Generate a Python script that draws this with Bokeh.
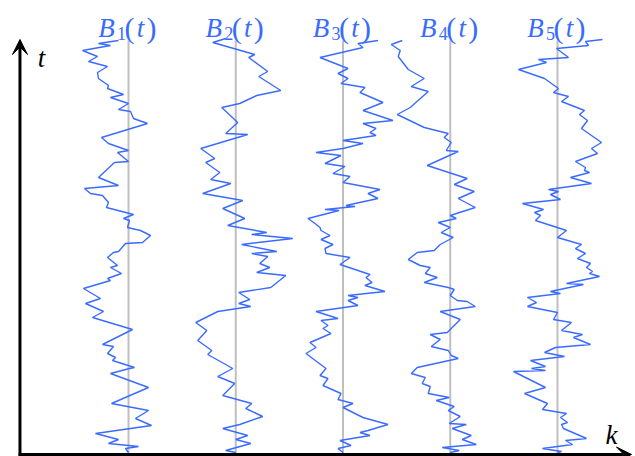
from bokeh.plotting import figure
from bokeh.models import Range1d, Arrow, VeeHead, Label
from bokeh.embed import file_html
from bokeh.resources import INLINE

# ---- data: B_k(t) paths (t in time steps, B in path units) ----
t1 = [0,4,6,9,13,19,27,34,42,49,65,79,84,85,92,95,99,106,108,123,135,141,149,154,164,172,174,179,185,187,
      195,200,201,209,210,217,222,225,232,234,238,245,250,257,259,264,267,275,290,291,300,302,309,315,329,334,
      341,343,349,355,358,364,367,374,380,386,391,396,402,407,409,412]
B1 = [0,-3,10,-20,-10,-33,23,7,20,-17,20,-18,1,6,-16,-13,-21,-15,-26,4,-36,-25,-43,-28,-45,-18,-21,-7,-18,-11,
      -21,-15,-10,-3,14,22,12,-1,1,-5,5,-22,-20,-26,-38,-44,-10,-30,-14,0,-11,0,-20,-27,19,5,
      2,-10,0,-18,-5,-21,-20,-30,-31,-21,-40,-31,-46,-18,-30,-10]

t2 = [0,2,9,13,17,24,28,36,44,49,57,69,76,84,98,102,112,122,130,141,146,149,153,160,165,177,180,185,189,196,
      199,201,208,214,218,220,227,234,244,252,259,269,273,280,290,294,304,318,319,330,345,349,357,362,376,381,
      395,398,410,414]
B2 = [0,-10,15,0,12,-13,4,27,10,16,-13,-1,-18,-3,-28,-24,-38,-29,-40,-18,15,3,14,3,35,50,21,34,24,32,
      16,41,6,57,16,31,-8,9,-13,7,-33,-5,-25,-16,-30,-21,-35,12,-10,2,-14,4,21,45,23,32,
      13,19,-23,-10]

t3 = [0,4,7,12,17,20,22,28,35,45,49,53,59,67,74,77,84,99,105,110,119,124,127,132,134,141,147,152,155,157,
      161,167,170,175,178,188,195,199,204,208,213,217,222,225,229,234,242,243,246,247,254,259,263,270,276,279,
      286,289,297,300,304,309,312,317,320,324,329,332,342,350,360,365,369,374,379,384,395,405,409,412]
B3 = [0,-5,8,-3,27,17,25,45,20,0,10,-5,-2,-20,-15,-23,-17,-37,-27,-33,-12,-20,-15,-22,-5,-27,15,5,15,5,
      42,22,29,23,27,-3,7,-17,-18,-10,-22,-13,-22,-23,-28,-35,-4,-18,12,3,35,25,37,0,7,-10,
      2,-18,-2,-27,0,20,0,33,27,33,20,50,20,40,17,22,-2,5,-5,5,-23,20,15,35]

t4 = [0,2,5,8,13,17,24,28,29,36,42,46,52,55,59,66,69,75,79,85,94,97,102,106,113,118,120,133,141,146,
      151,152,157,163,165,170,175,179,185,187,193,200,202,208,215,220,225,230,234,237,245,254,261,268,274,287,
      301,302,310,315,319,325,338,345,361,366,374,383,396,402,408,412]
B4 = [0,9,-8,26,12,21,2,16,-1,10,-2,4,-14,-1,-22,-20,-28,-25,-39,-33,8,1,-2,-19,-10,-20,-3,10,-10,25,
      17,7,0,4,-2,-26,-13,-25,-20,-30,-42,-33,-16,-10,3,-9,0,-12,6,0,25,8,24,4,17,-23,
      8,-4,1,-6,-2,-26,-53,-40,-22,-39,-26,-42,-52,-50,-59,-48]

t5 = [0,1,4,8,12,14,24,28,30,35,39,43,49,59,65,81,82,84,86,92,96,100,105,108,115,118,122,130,133,140,
      146,150,155,159,161,168,169,176,179,181,185,189,194,199,204,208,215,222,232,237,240,243,249,253,258,261,
      263,269,275,280,282,285,291,299,304,310,324,332,338,342,351,356,360,364,374,383,390,393,395,404,407,411,413]
B5 = [0,4,-15,15,8,29,6,4,10,3,9,-15,-10,-33,-12,-44,-12,-26,-12,-27,7,-13,-2,33,16,25,4,14,-4,0,
      -30,-21,-30,3,-7,26,9,42,32,35,29,33,20,28,18,24,0,9,-22,-17,-23,-14,-35,3,-7,1,
      -9,34,13,32,27,28,18,40,34,44,24,30,22,27,4,11,-4,1,-13,-39,-11,-19,11,-1,31,28,45]

ks = [1, 2, 3, 4, 5]
paths_t = [t1, t2, t3, t4, t5]
paths_B = [B1, B2, B3, B4, B5]
sub_labels = ["1", "2", "3", "4", "5"]
t_top = 412

# ---- style ----
BLUE = "#3a6bff"
PX_PER_K = 107.25     # horizontal pixels per unit of k
SERIF = "Liberation Serif"

p = figure(width=635, height=456, output_backend="svg", toolbar_location=None,
           x_range=Range1d(-0.1935, 5.7273), y_range=Range1d(-4, 452),
           x_axis_location=None, y_axis_location=None, min_border=0)
p.grid.visible = False
p.outline_line_color = None
p.background_fill_color = "white"
p.border_fill_color = "white"

# grey reference lines
p.segment(x0=ks, y0=[-2]*5, x1=ks, y1=[t_top]*5, line_color="#bfbfbf", line_width=2)

# Brownian paths
for k, ts, bs in zip(ks, paths_t, paths_B):
    xs = [k + b / PX_PER_K for b in bs]
    p.line(xs, ts, line_color=BLUE, line_width=1.4)

# labels B_k(t)
for k, s in zip(ks, sub_labels):
    pieces = [("B", -22, 0, "italic", 27), (s, -7, -6, "normal", 18),
              ("(", 1, 0, "normal", 30), ("t", 12, 0, "italic", 27), (")", 23, 0, "normal", 30)]
    for txt, dx, dy, style, fs in pieces:
        p.add_layout(Label(x=k, y=425, x_offset=dx, y_offset=dy, text=txt,
                           text_align="center", text_baseline="alphabetic",
                           text_font=SERIF, text_font_style=style,
                           text_font_size=f"{fs}px", text_color=BLUE))

# axes with arrows
AX = -0.012
p.add_layout(Arrow(end=VeeHead(size=15, fill_color="black", line_color="black", line_width=1),
                   x_start=AX, y_start=-3.5, x_end=AX, y_end=413,
                   line_color="black", line_width=3))
p.add_layout(Arrow(end=VeeHead(size=15, fill_color="black", line_color="black", line_width=1),
                   x_start=AX - 0.012, y_start=-2, x_end=5.69, y_end=-2,
                   line_color="black", line_width=3))

p.add_layout(Label(x=0.189, y=395, text="t", text_align="center", text_baseline="alphabetic",
                   text_font=SERIF, text_font_style="italic", text_font_size="27px", text_color="black"))
p.add_layout(Label(x=5.504, y=18, text="k", text_align="center", text_baseline="alphabetic",
                   text_font=SERIF, text_font_style="italic", text_font_size="27px", text_color="black"))

open("out.html", "w").write(file_html(p, INLINE))
